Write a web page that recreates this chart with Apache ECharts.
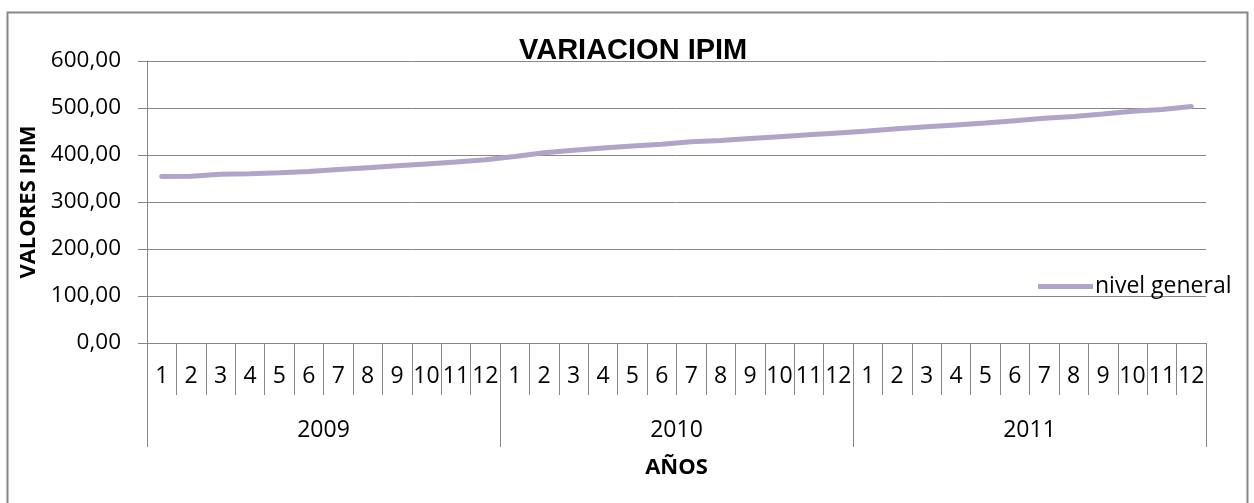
<!DOCTYPE html>
<html>
<head>
<meta charset="utf-8">
<script src="https://cdn.jsdelivr.net/npm/echarts@6/dist/echarts.min.js"></script>
<style>
  html, body { margin: 0; padding: 0; background: #fff; }
  #chart { width: 1254px; height: 503px; }
</style>
</head>
<body>
<div id="chart"></div>
<script>
// months per year (category labels), the years, and the IPIM values
const months = ['1','2','3','4','5','6','7','8','9','10','11','12'];
const years = ['2009', '2010', '2011'];
const nivelGeneral2009 = [354, 355, 359, 360, 362, 365, 369, 373, 377, 381, 385, 390];
const nivelGeneral2010 = [397, 405, 410, 415, 419, 423, 428, 431, 435, 439, 443, 447];
const nivelGeneral2011 = [451, 456, 460, 464, 468, 473, 478, 482, 487, 493, 497, 503];

const monthCats = [];
years.forEach(function () { monthCats.push.apply(monthCats, months); });
const values = nivelGeneral2009.concat(nivelGeneral2010, nivelGeneral2011);

const gray = '#878787';
const lineColor = '#b2a3c8';
const font = 'Open Sans';

let chart = echarts.init(document.getElementById('chart'));
chart.setOption({
    animation: false,
    backgroundColor: '#fff',
    title: {
        text: 'VARIACION IPIM',
        left: 519,
        top: 36,
        padding: 0,
        textStyle: {
            fontFamily: 'Liberation Sans',
            fontWeight: 'bold',
            fontSize: 29,
            color: '#000'
        }
    },
    legend: {
        left: 1038,
        top: 275,
        padding: 0,
        icon: 'rect',
        itemWidth: 55,
        itemHeight: 5,
        data: ['nivel general'],
        textStyle: {
            fontFamily: font,
            fontSize: 23,
            color: '#000',
            padding: [0, 0, 0, -3]
        }
    },
    graphic: [{
        type: 'rect',
        shape: { x: 7.5, y: 12.5, width: 1240, height: 520 },
        style: { fill: 'none', stroke: gray, lineWidth: 2 },
        silent: true
    }],
    grid: {
        left: 147,
        right: 48,
        top: 61,
        bottom: 160,
        containLabel: false,
        outerBoundsMode: 'none'
    },
    xAxis: [{
        type: 'category',
        data: monthCats,
        boundaryGap: true,
        axisLine: { lineStyle: { color: gray, width: 1 } },
        axisTick: { show: true, interval: 0, length: 52, lineStyle: { color: gray } },
        axisLabel: {
            interval: 0,
            margin: 22,
            fontFamily: font,
            fontSize: 23,
            color: '#000'
        },
        splitLine: { show: false }
    }, {
        type: 'category',
        position: 'bottom',
        data: years,
        boundaryGap: true,
        axisLine: { show: false },
        axisTick: { show: true, interval: 0, length: 104, lineStyle: { color: gray } },
        axisLabel: {
            interval: 0,
            margin: 76,
            fontFamily: font,
            fontSize: 23,
            color: '#000'
        },
        name: 'AÑOS',
        nameLocation: 'middle',
        nameGap: 114,
        nameTextStyle: {
            fontFamily: font,
            fontWeight: 'bold',
            fontSize: 22,
            color: '#000'
        },
        splitLine: { show: false }
    }],
    yAxis: {
        type: 'value',
        min: 0,
        max: 600,
        interval: 100,
        name: 'VALORES IPIM',
        nameLocation: 'middle',
        nameRotate: 90,
        nameGap: 106,
        nameTextStyle: {
            fontFamily: font,
            fontWeight: 'bold',
            fontSize: 22,
            color: '#000'
        },
        axisLine: { show: true, lineStyle: { color: gray, width: 1 } },
        axisTick: { show: true, length: 9, lineStyle: { color: gray } },
        axisLabel: {
            margin: 26,
            fontFamily: font,
            fontSize: 22.5,
            color: '#000',
            formatter: function (v) { return v.toFixed(2).replace('.', ','); }
        },
        splitLine: { show: true, lineStyle: { color: gray, width: 1 } }
    },
    series: [{
        name: 'nivel general',
        type: 'line',
        xAxisIndex: 0,
        data: values,
        symbol: 'none',
        lineStyle: { color: lineColor, width: 5, cap: 'round' },
        itemStyle: { color: lineColor }
    }]
});
</script>
</body>
</html>
